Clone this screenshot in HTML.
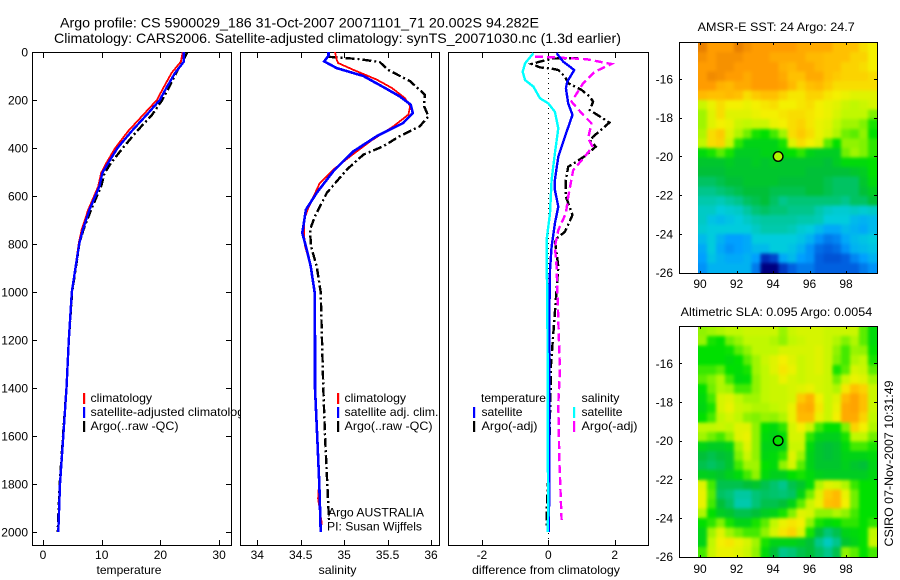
<!DOCTYPE html>
<html>
<head>
<meta charset="utf-8">
<title>Argo profile</title>
<style>
html,body{margin:0;padding:0;background:#fff;width:900px;height:580px;overflow:hidden}
svg{display:block;font-family:"Liberation Sans",sans-serif;font-size:12px;fill:#000}
text{fill:#000}
</style>
</head>
<body>
<svg id="chart" width="900" height="580" viewBox="0 0 900 580" xmlns="http://www.w3.org/2000/svg">
  <defs>
    <clipPath id="clip-t"><rect x="32" y="52" width="199" height="493"/></clipPath>
    <clipPath id="clip-s"><rect x="240" y="52" width="199" height="493"/></clipPath>
    <clipPath id="clip-d"><rect x="448" y="52" width="200" height="493"/></clipPath>
    <clipPath id="clip-m1"><rect x="698" y="42" width="179" height="231"/></clipPath>
    <clipPath id="clip-m2"><rect x="698" y="326" width="179" height="231"/></clipPath>
    <clipPath id="clip-leg1"><rect x="60" y="385" width="180" height="60"/></clipPath>
    <filter id="heat-soften" x="-5%" y="-5%" width="110%" height="110%" color-interpolation-filters="sRGB">
      <feGaussianBlur in="SourceGraphic" stdDeviation="1.6" result="soft"/>
      <feMerge><feMergeNode in="SourceGraphic"/><feMergeNode in="soft"/></feMerge>
    </filter>
  </defs>
  <text x="60" y="27.5" font-size="14" textLength="479" lengthAdjust="spacingAndGlyphs">Argo profile: CS 5900029_186 31-Oct-2007 20071101_71 20.002S 94.282E</text>
  <text x="54" y="43" font-size="14" textLength="567" lengthAdjust="spacingAndGlyphs">Climatology: CARS2006. Satellite-adjusted climatology: synTS_20071030.nc (1.3d earlier)</text>
  <g id="layer-heat"></g>
  <g id="layer-axes"></g>
  <g id="layer-series"></g>
  <g id="legend-temperature">
    <g clip-path="url(#clip-leg1)">
      <text x="90.5" y="402" textLength="61.6" lengthAdjust="spacingAndGlyphs">climatology</text>
      <text x="90.5" y="416" textLength="160" lengthAdjust="spacingAndGlyphs">satellite-adjusted climatology</text>
      <text x="90.5" y="430" textLength="88" lengthAdjust="spacingAndGlyphs">Argo(..raw -QC)</text>
    </g>
    <rect x="83" y="393" width="2.2" height="11" style="fill:#f00"/>
    <rect x="83" y="407" width="2.2" height="11" style="fill:#00f"/>
    <rect x="83" y="421" width="2.2" height="11" style="fill:#000"/>
  </g>
  <g>
    <text x="344.5" y="402" textLength="61.6" lengthAdjust="spacingAndGlyphs">climatology</text>
    <text x="344.5" y="416" textLength="94" lengthAdjust="spacingAndGlyphs">satellite adj. clim.</text>
    <text x="344.5" y="430" textLength="88" lengthAdjust="spacingAndGlyphs">Argo(..raw -QC)</text>
    <rect x="337" y="393" width="2.2" height="11" style="fill:#f00"/>
    <rect x="337" y="407" width="2.2" height="11" style="fill:#00f"/>
    <rect x="337" y="421" width="2.2" height="11" style="fill:#000"/>
    <text x="328" y="516.5" textLength="96" lengthAdjust="spacingAndGlyphs">Argo AUSTRALIA</text>
    <text x="327" y="530.5" textLength="95" lengthAdjust="spacingAndGlyphs">PI: Susan Wijffels</text>
  </g>
  <g>
    <text x="481" y="402" textLength="65" lengthAdjust="spacingAndGlyphs">temperature</text>
    <text x="481.5" y="416" textLength="41" lengthAdjust="spacingAndGlyphs">satellite</text>
    <text x="481.5" y="430" textLength="56" lengthAdjust="spacingAndGlyphs">Argo(-adj)</text>
    <text x="581.5" y="402" textLength="38" lengthAdjust="spacingAndGlyphs">salinity</text>
    <text x="581.5" y="416" textLength="41" lengthAdjust="spacingAndGlyphs">satellite</text>
    <text x="581.5" y="430" textLength="56" lengthAdjust="spacingAndGlyphs">Argo(-adj)</text>
    <rect x="473" y="407" width="2.2" height="11" style="fill:#00f"/>
    <rect x="473" y="421" width="2.2" height="11" style="fill:#000"/>
    <rect x="573" y="407" width="2.2" height="11" style="fill:#0ff"/>
    <rect x="573" y="421" width="2.2" height="11" style="fill:#f0f"/>
  </g>
  <text x="129" y="574" text-anchor="middle" textLength="65" lengthAdjust="spacingAndGlyphs">temperature</text>
  <text x="337.5" y="574" text-anchor="middle" textLength="38" lengthAdjust="spacingAndGlyphs">salinity</text>
  <text x="546" y="574" text-anchor="middle" textLength="148" lengthAdjust="spacingAndGlyphs">difference from climatology</text>
  <text x="697.7" y="31" textLength="157" lengthAdjust="spacingAndGlyphs">AMSR-E SST: 24 Argo: 24.7</text>
  <text x="680.7" y="316" textLength="191.5" lengthAdjust="spacingAndGlyphs">Altimetric SLA: 0.095 Argo: 0.0054</text>
  <text transform="translate(893,546.5) rotate(-90)" textLength="166" lengthAdjust="spacingAndGlyphs">CSIRO 07-Nov-2007 10:31:49</text>
</svg>
<script>
// ---------- profile data ----------
const depthTicks = [0,200,400,600,800,1000,1200,1400,1600,1800,2000];
const tempTicks = [0,10,20,30];
const salTicks = [34,34.5,35,35.5,36];
const salTickLabels = ['34','34.5','35','35.5','36'];
const diffTicks = [-2,0,2];

const tempClimDepth = [0,40,87,150,200,261,330,400,462,504,560,657,740,796,880,1000,1200,1400,1600,1800,2000];
const tempClim = [23.8,23.5,21.9,20.5,19.4,17.1,14.5,12.3,10.8,9.9,9.4,7.7,6.6,6.1,5.6,4.9,4.4,4.0,3.46,2.9,2.6];
const tempSatDepth = [0,40,87,150,200,261,330,400,462,504,560,657,740,796,880,1000,1200,1400,1600,1800,2000];
const tempSat = [24.0,24.0,22.5,21.0,19.9,17.7,15.1,12.7,11.1,10.1,9.6,7.9,6.8,6.2,5.65,4.9,4.4,4.0,3.46,2.9,2.6];
const tempArgoDepth = [0,20,50,87,150,200,261,330,400,462,504,560,657,740,796,880,1000,1200,1400,1600,1800,2000];
const tempArgo = [24.6,24.2,23.5,22.7,21.4,20.3,18.6,16.0,13.6,11.6,10.5,9.9,8.2,6.9,6.2,5.7,4.95,4.4,4.0,3.4,2.85,2.5];

const salClimDepth = [0,32,46,74,115,150,192,226,261,310,372,435,490,546,650,700,754,810,880,1000,1200,1400,1600,1800,1860,1960,2000];
const salClim = [34.895,34.914,34.93,35.105,35.375,35.55,35.70,35.76,35.74,35.566,35.30,35.07,34.875,34.72,34.587,34.537,34.537,34.55,34.607,34.66,34.664,34.664,34.69,34.71,34.70,34.74,34.73];
const salSatDepth = [0,15,39,67,100,146,185,219,254,296,351,414,497,587,657,754,824,893,1000,1200,1400,1600,1800,2000];
const salSat = [34.82,34.82,34.77,34.914,35.22,35.45,35.64,35.766,35.79,35.68,35.375,35.105,34.875,34.684,34.56,34.518,34.57,34.615,34.66,34.664,34.664,34.69,34.714,34.73];
const salArgoDepth = [20,29,42,74,122,178,226,268,310,351,393,428,490,587,685,740,810,893,1000,1200,1400,1600,1800,1950];
const salArgo = [34.82,35.16,35.41,35.505,35.76,35.93,35.92,35.97,35.87,35.64,35.45,35.22,35.03,34.8,34.664,34.607,34.618,34.684,34.73,34.745,34.76,34.78,34.806,34.825];

const diffSalSatDepth = [5,47,82,117,144,193,214,249,318,422,533,672,783,894,1000,1300,1600,1900,2000];
const diffSalSat = [-0.45,-0.70,-0.77,-0.70,-0.45,-0.25,0,0.2,0.3,0.2,0.1,0.05,-0.05,-0.05,-0.03,-0.02,-0.02,0,-0.02];
const diffTempSatDepth = [5,40,75,124,151,214,262,353,436,533,575,644,714,811,908,1100,1500,2000];
const diffTempSat = [0.25,0.45,0.78,0.57,0.53,0.6,0.73,0.5,0.3,0.2,0.2,0.3,0.2,0.1,0.05,0.03,0.03,0.02];
const diffSalArgoDepth = [19,22,30,50,82,130,207,262,297,360,394,436,492,603,672,742,811,894,1325,1466,1700,1950];
const diffSalArgo = [-0.4,0.15,1.15,1.9,1.4,1.05,0.7,1.05,1.3,1.2,1.33,1.1,0.75,0.6,0.53,0.3,0.2,0.25,0.35,0.3,0.33,0.4];
const diffTempArgoDepth = [26,27,40,50,64,68,75,103,130,158,186,207,242,294,353,367,394,429,457,478,533,603,679,749,783,894,1325,1400,1700,1921,1980];
const diffTempArgo = [0.9,0.15,-0.25,-0.5,-0.25,0.05,0.3,0.5,0.6,1.0,1.25,1.35,1.25,1.84,1.35,1.25,1.43,1.15,0.85,0.6,0.53,0.53,0.73,0.5,0.2,0.3,0.07,0.07,0.02,-0.05,-0.05];

// ---------- map data ----------
const lonTicks = [90,92,94,96,98];
const latTicks = [-16,-18,-20,-22,-24,-26];
const argoLon = 94.282;
const argoLat = -20.002;
const sstMarkerValue = 25.4;
const slaMarkerValue = 0.5;

const sstRows = [
[27.5,27,27,27,27.5,27.2,27,27,27,27,27,26.8,26.8,26.8,26.8,26.5,26.5,26.5,26.2,26],
[27.2,27,27.2,27.2,27.2,27,27,27,26.8,26.8,26.8,26.8,26.6,26.6,26.5,26.5,26.5,26.3,26.3,26],
[27,27,27.2,27.2,27,27,27,27,27,26.7,26.6,26.8,26.8,26.6,26.5,26.5,26.3,26.3,26.2,26],
[27,27.3,27.2,27,27,26.8,27,27,27,26.8,26.5,26.5,26.8,26.8,26.5,26.4,26.3,26.3,26.3,26.2],
[27,27,26.7,26.6,26.8,26.8,27,27,27,26.9,26.6,26.3,26.5,26.6,26.4,26.2,26.2,26.2,26.2,26.2],
[26.6,26.5,26.5,26.6,26.5,26.2,26.4,26.5,26.5,26.3,26.1,26.1,26.3,26.3,26.1,26,25.9,25.8,25.8,25.8],
[25.6,25.9,26.2,26,26,25.9,26,26.1,26.2,26,26,26.1,26.2,26,25.9,25.8,25.6,25.5,25.6,25.7],
[25.3,25.8,26.2,25.8,25.8,25.8,25.9,26,26,26.1,26.2,26.2,26.1,26,25.9,25.7,25.5,25.5,25.5,25.1],
[25.3,25.8,26,25.9,25.6,25.5,25.6,25.6,25.9,26,26.2,26.3,26.1,25.9,25.8,25.5,25.3,25.3,25.1,24.6],
[25.4,26.2,26.4,25.8,25.4,25,24.6,24.5,24.8,25.3,26.2,26.4,26.2,25.9,25.7,25.4,25.0,24.9,25.2,24.5],
[25.5,26.2,26.3,25.6,24.7,24.3,24.3,24.3,24.3,24.6,25.8,26.2,26,25.8,24.9,24.5,25.2,25.2,25.1,24.7],
[24.4,24.6,24.9,24.6,24.2,24.2,24.2,24.3,24.3,24.4,24.5,24.7,24.3,24.2,24.2,24.2,25,25.3,25.1,24.7],
[24.1,24.1,24.1,24.2,24.1,24.1,24.2,24.1,24.2,24.1,24.1,24.1,24.1,24.1,24.0,24.2,24.4,24.4,24.4,24.5],
[24.0,24.0,24.0,24.1,24.1,24.1,24.1,24.1,24.1,24.1,24.1,24.1,24.0,24.0,24.0,24.0,24.0,24.1,24.2,24.5],
[23.8,23.8,23.9,24.0,24.0,24.1,24.1,24.1,24.1,24.0,24.0,24.0,24.0,24.0,23.9,23.8,23.8,23.8,24.1,24.4],
[23.6,23.6,23.7,23.8,23.9,24,24,24.0,23.9,23.9,23.9,23.9,24,24,23.9,23.8,23.8,23.8,24,24.2],
[23.4,23.4,23.3,23.5,23.6,23.8,23.9,24,23.8,23.6,23.7,23.7,23.7,23.7,23.7,23.7,23.6,23.8,23.8,24],
[23.2,23.2,23.0,23.1,23.2,23.5,23.7,23.8,23.7,23.7,23.6,23.6,23.6,23.4,23.2,23.1,23.1,23.2,23.1,23.2],
[23.2,22.9,22.8,22.9,23,23.2,23.4,23.5,23.5,23.5,23.5,23.4,23.4,23.3,23.0,23,23,22.8,22.7,22.8],
[23.1,23,23,23,23,23,23.2,23.4,23.4,23.4,23.3,23.1,23,22.8,22.6,22.6,22.8,22.7,22.6,22.8],
[22.8,23,22.7,22.5,22.5,22.6,23,23,23,23,23,22.9,22.7,22.4,22.2,22.3,22.6,22.8,22.9,23],
[22.6,23,22.6,22.4,22.5,22.6,22.8,22.8,23,23,22.9,22.7,22.4,22.1,22.0,22.1,22.4,22.7,22.8,22.9],
[22.5,22.9,22.7,22.6,22.6,22.7,22.5,21.6,21.8,22.6,22.8,22.5,22.4,22,21.9,21.9,22,22.3,22.5,22.7],
[22.4,22.7,22.7,22.7,22.7,22.7,22.2,21,21,21.7,22,22.2,22.2,22,22,22,22,22,22.2,22.4]
];
const slaRows = [
[14,16,18,20,20,22,22,22,22,15,22,24,24,24,22,22,22,22,8,-2],
[15,2,0,10,15,20,20,20,18,14,20,22,24,24,22,18,12,18,8,-2],
[0,0,0,1,8,14,20,20,20,24,24,24,24,26,22,14,6,15,14,0],
[0,0,0,-2,0,8,16,22,26,30,26,22,24,26,22,12,6,18,20,2],
[5,5,8,0,-1,2,16,20,26,32,28,22,24,26,22,2,8,24,22,8],
[8,12,18,6,-2,-1,14,20,22,28,24,22,24,24,22,10,22,28,26,16],
[0,10,18,16,6,6,14,20,22,22,24,26,28,24,22,18,32,40,36,22],
[-2,6,24,26,20,16,16,20,22,22,24,38,44,30,22,26,42,48,40,22],
[-3,2,24,28,22,20,18,18,20,22,28,44,46,32,22,28,46,48,40,22],
[0,6,20,24,20,14,12,15,14,18,28,42,42,28,22,30,46,46,36,20],
[20,20,22,20,26,26,14,0,-2,4,24,30,22,6,0,0,12,36,30,18],
[16,10,6,14,26,28,14,-2,-4,-1,24,24,4,-4,-5,-5,2,20,20,10],
[-4,-6,-6,-4,16,26,14,-4,-4,-4,22,22,-2,-8,-10,-8,-2,6,6,2],
[-10,-12,-10,-8,12,22,14,-3,-2,4,26,16,-4,-8,-10,-8,-4,-4,-4,-2],
[-12,-14,-12,-8,6,16,16,0,-2,14,24,8,-4,-8,-8,-8,-5,-8,-10,-4],
[-5,-6,-8,-5,-2,6,14,-2,-5,-5,0,2,-2,-5,-6,-6,-6,-6,-6,-3],
[26,6,-12,-12,-12,-10,-8,-12,-15,-18,-12,-8,-2,18,26,24,18,5,0,0],
[28,8,-14,-16,-20,-20,-16,-14,-15,-16,-14,-4,10,26,38,42,28,10,0,0],
[28,6,-10,-14,-22,-22,-16,-12,-12,-10,-4,8,22,28,40,42,30,10,0,0],
[18,0,-6,-8,-12,-12,-10,-6,-4,2,12,26,24,14,14,18,14,6,0,0],
[0,4,12,2,-4,-4,2,8,20,28,32,30,14,2,-2,0,4,4,0,4],
[-4,16,26,16,10,6,6,14,24,32,36,26,2,-10,-16,-12,-4,-2,0,20],
[-4,20,30,32,28,24,16,2,-4,-4,-4,-6,-10,-18,-25,-18,-8,-4,0,22],
[6,22,28,28,26,22,14,-2,-10,-18,-16,-12,-10,-14,-18,-12,14,8,0,6]
];
const colorStops = ['#000080','#0020b0','#0060e0','#00a0ff','#00ccdd','#00c8a0','#00c038','#00e000','#70f000','#c0f800','#f4f000','#ffc000','#ff9c00','#e88000'];

// ---------- drawing ----------
const NS = 'http://www.w3.org/2000/svg';
const depthY = d => 52 + 0.24 * d;
const tempX = v => 43 + 5.87 * v;
const salX = v => 257.3 + 86.85 * (v - 34);
const diffX = v => 548.3 + 33.2 * v;
const lonX = v => 700 + 18.25 * (v - 90);
const latY1 = v => 79 + 19.37 * (-16 - v);
const latY2 = v => 363.3 + 19.34 * (-16 - v);
const sstT = v => (v - 21) / 0.5;
const slaT = v => 7 + v / 10;

function make(tag, parent, attrs, name, txt) {
  const el = document.createElementNS(NS, tag);
  for (const k in attrs) el.setAttribute(k, attrs[k]);
  
  
  if (txt !== undefined) el.textContent = txt;
  parent.appendChild(el);
  return el;
}
function hex(c) { return [1,3,5].map(i => parseInt(c.substr(i,2),16)); }
function colorFor(t) {
  t = Math.max(0, Math.min(colorStops.length - 1, t));
  const i = Math.min(colorStops.length - 2, Math.floor(t));
  const a = hex(colorStops[i]), b = hex(colorStops[i+1]), f = t - i;
  return 'rgb(' + a.map((x,k) => Math.round(x + (b[k]-x)*f)).join(',') + ')';
}
const axesLayer = document.getElementById('layer-axes');
const seriesLayer = document.getElementById('layer-series');
const heatLayer = document.getElementById('layer-heat');

function frame(x, y, w, h, name) {
  make('rect', axesLayer, {x:x+0.5, y:y+0.5, width:w, height:h, fill:'none', stroke:'#000', 'stroke-width':1, 'shape-rendering':'crispEdges'}, name);
}
function tick(x1, y1, x2, y2, name) {
  make('line', axesLayer, {x1:x1, y1:y1, x2:x2, y2:y2, stroke:'#000', 'stroke-width':1, 'shape-rendering':'crispEdges'}, name);
}
function label(x, y, anchor, str, name) {
  make('text', axesLayer, {x:x, y:y, 'text-anchor':anchor}, name, str);
}
function profilePanel(left, right, ticks, labels, scale, name) {
  frame(left, 52, right - left, 493, name + '-axes-frame');
  ticks.forEach((t, i) => {
    const x = Math.round(scale(t)) + 0.5;
    tick(x, 53, x, 58, name + '-top-tick');
    tick(x, 540, x, 545, name + '-bottom-tick');
    label(scale(t), 559, 'middle', labels[i], name + '-x-tick-label');
  });
}
profilePanel(32, 231, tempTicks, tempTicks.map(String), tempX, 'temperature');
profilePanel(240, 439, salTicks, salTickLabels, salX, 'salinity');
profilePanel(448, 648, diffTicks, diffTicks.map(String), diffX, 'difference');
depthTicks.forEach(d => {
  const y = Math.round(depthY(d)) + 0.5;
  tick(32, y, 37, y, 'depth-left-tick');
  tick(226, y, 231, y, 'depth-right-tick');
  label(28, depthY(d) + 4.5, 'end', String(d), 'depth-tick-label');
});

function series(xs, ds, scale, color, width, dash, clip, name) {
  const pts = xs.map((v, i) => scale(v).toFixed(1) + ',' + depthY(ds[i]).toFixed(1)).join(' ');
  const attrs = {points:pts, fill:'none', stroke:color, 'stroke-width':width, 'clip-path':'url(#' + clip + ')', 'shape-rendering':'crispEdges'};
  if (dash) attrs['stroke-dasharray'] = dash;
  make('polyline', seriesLayer, attrs, name);
}
const DASH = '9 3 2 3';
series(tempArgo, tempArgoDepth, tempX, '#000', 2.4, DASH, 'clip-t', 'temperature-argo-line');
series(tempClim, tempClimDepth, tempX, '#f00', 1.8, null, 'clip-t', 'temperature-climatology-line');
series(tempSat, tempSatDepth, tempX, '#00f', 2.4, null, 'clip-t', 'temperature-satellite-line');
series(salArgo, salArgoDepth, salX, '#000', 2.4, DASH, 'clip-s', 'salinity-argo-line');
series(salClim, salClimDepth, salX, '#f00', 1.8, null, 'clip-s', 'salinity-climatology-line');
series(salSat, salSatDepth, salX, '#00f', 2.6, null, 'clip-s', 'salinity-satellite-line');

make('line', seriesLayer, {x1:548.5, y1:53, x2:548.5, y2:544, stroke:'#000', 'stroke-width':1, 'stroke-dasharray':'1 4', 'shape-rendering':'crispEdges'}, 'zero-reference-line');
series(diffTempArgo, diffTempArgoDepth, diffX, '#000', 2.4, DASH, 'clip-d', 'difference-temperature-argo-line');
series(diffSalArgo, diffSalArgoDepth, diffX, '#f0f', 2.4, '8 4', 'clip-d', 'difference-salinity-argo-line');
series(diffTempSat, diffTempSatDepth, diffX, '#00f', 2.4, null, 'clip-d', 'difference-temperature-satellite-line');
series(diffSalSat, diffSalSatDepth, diffX, '#0ff', 2.4, null, 'clip-d', 'difference-salinity-satellite-line');

function heatmap(rows, toT, top, clip, name) {
  const outer = make('g', heatLayer, {'clip-path':'url(#' + clip + ')'}, name);
  const g = make('g', outer, {filter:'url(#heat-soften)', 'shape-rendering':'crispEdges'}, name + '-cells');
  const cw = 8.95, ch = 9.58;
  rows.forEach((row, r) => {
    row.forEach((v, c) => {
      const x = 698 + c * cw, y = top + r * ch;
      make('rect', g, {x:x.toFixed(2), y:y.toFixed(2), width:(cw+0.6).toFixed(2), height:(ch+0.6).toFixed(2), style:'fill:' + colorFor(toT(v))}, name + '-cell');
    });
  });
}
heatmap(sstRows, sstT, 42.6, 'clip-m1', 'sst-heatmap');
heatmap(slaRows, slaT, 326.5, 'clip-m2', 'sla-heatmap');

function mapAxes(top, bottom, latY, labelY, marker, name) {
  frame(679, top, 198, bottom - top, name + '-axes-frame');
  lonTicks.forEach(v => {
    const x = Math.round(lonX(v)) + 0.5;
    tick(x, top, x, top + 3, name + '-top-tick');
    tick(x, bottom - 2, x, bottom + 1, name + '-bottom-tick');
    label(lonX(v), labelY, 'middle', String(v), name + '-lon-tick-label');
  });
  latTicks.forEach(v => {
    const y = Math.round(latY(v)) + 0.5;
    tick(679, y, 682, y, name + '-left-tick');
    tick(874, y, 877, y, name + '-right-tick');
    label(673, latY(v) + 4.5, 'end', String(v), name + '-lat-tick-label');
  });
  make('circle', axesLayer, {cx:lonX(argoLon), cy:latY(argoLat), r:4.8, stroke:'#000', 'stroke-width':1.4, style:'fill:' + colorFor(marker)}, name + '-argo-marker');
}
mapAxes(42, 273, latY1, 288, sstT(sstMarkerValue), 'sst-map');
mapAxes(326, 557, latY2, 573, slaT(slaMarkerValue), 'sla-map');
</script>
</body>
</html>
